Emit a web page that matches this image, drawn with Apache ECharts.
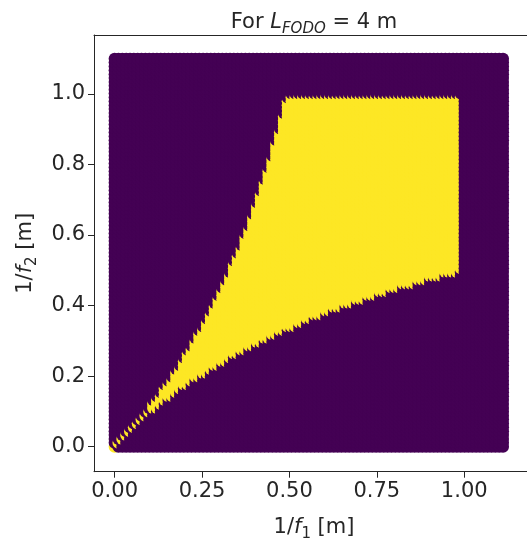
<!DOCTYPE html>
<html>
<head>
<meta charset="utf-8">
<script src="https://cdn.jsdelivr.net/npm/echarts@6/dist/echarts.min.js"></script>
<style>html,body{margin:0;padding:0;background:#fff}#c{width:527px;height:542px}</style>
</head>
<body>
<div id="c"></div>
<script>
// Grid of (1/f1, 1/f2) samples, spacing 0.011 m^-1
const gridStep = 0.011;
const gridCountX = 102;   // 1/f1 from 0 to ~1.11
const gridCountY = 101;   // 1/f2 from 0 to 1.1
// For each 1/f1 column index (0..90) the first and last 1/f2 row index that is stable (yellow)
const stableLowRow = [
  0,1,2,3,4,5,6,7,8,9,
  10,10,11,12,13,13,14,15,16,16,
  17,18,18,19,19,20,21,21,22,22,
  23,24,24,25,25,26,26,27,27,28,
  28,29,29,30,30,31,31,31,32,32,
  33,33,34,34,34,35,35,36,36,36,
  37,37,37,38,38,38,39,39,39,40,
  40,40,41,41,41,42,42,42,42,43,
  43,43,44,44,44,44,45,45,45,45,
  46];
const stableHighRow = [
  0,1,2,3,4,5,6,7,8,9,
  11,12,13,15,16,17,19,20,22,24,
  25,27,29,30,32,34,36,38,40,42,
  44,47,49,51,54,56,59,62,65,68,
  71,74,78,81,85,89,90,90,90,90,
  90,90,90,90,90,90,90,90,90,90,
  90,90,90,90,90,90,90,90,90,90,
  90,90,90,90,90,90,90,90,90,90,
  90,90,90,90,90,90,90,90,90,90,
  90];
const xTicks = [0, 0.25, 0.5, 0.75, 1.0];
const yTicks = [0, 0.2, 0.4, 0.6, 0.8, 1.0];
const colorUnstable = '#440154';
const colorStable = '#fde725';

const points = [];
for (let i = 0; i < gridCountX; i++) {
  for (let j = 0; j < gridCountY; j++) {
    const stable = i < stableLowRow.length && j >= stableLowRow[i] && j <= stableHighRow[i] ? 1 : 0;
    points.push([+(i * gridStep).toFixed(4), +(j * gridStep).toFixed(4), stable]);
  }
}

const FONT = 'DejaVu Sans';
const TXT = '#262626';
const SPINE = '#262626';
function richSet(base, sub) {
  return {
    a: {fontFamily: FONT, fontSize: base, fontWeight: 'normal', color: TXT, lineHeight: 26, verticalAlign: 'bottom'},
    i: {fontFamily: FONT, fontSize: base, fontWeight: 'normal', fontStyle: 'italic', color: TXT, lineHeight: 26, verticalAlign: 'bottom'},
    s: {fontFamily: FONT, fontSize: sub, fontWeight: 'normal', fontStyle: 'italic', color: TXT, lineHeight: 15, verticalAlign: 'bottom', padding: [0,0,-4,0]},
    n: {fontFamily: FONT, fontSize: sub, fontWeight: 'normal', color: TXT, lineHeight: 15, verticalAlign: 'bottom', padding: [0,0,-4,0]}
  };
}
const X_MIN = -0.059, X_MAX = 1.1996;
const chart = echarts.init(document.getElementById('c'), null, {renderer: 'canvas'});
chart.setOption({
  animation: false,
  backgroundColor: '#fff',
  textStyle: {fontFamily: FONT},
  title: {
    text: '{a|For }{i|L}{s|FODO}{a| = 4 m}',
    left: 309, top: 2, textAlign: 'center',
    textStyle: {fontWeight: 'normal', rich: richSet(21, 15)}
  },
  grid: {left: 94, top: 35, width: 440, height: 436.7, outerBoundsMode: 'none', containLabel: false, show: false},
  xAxis: [{
    type: 'value', min: X_MIN, max: X_MAX, position: 'bottom',
    splitLine: {show: false},
    axisLine: {show: true, onZero: false, lineStyle: {color: SPINE, width: 1}},
    axisTick: {show: true, length: 6, customValues: xTicks, lineStyle: {color: SPINE}},
    axisLabel: {customValues: xTicks, formatter: v => v.toFixed(2), fontFamily: FONT, fontSize: 21, color: TXT, margin: 9},
    name: '{a|1/}{i|f}{n|1}{a| [m]}', nameLocation: 'middle', nameGap: 40,
    nameTextStyle: {rich: richSet(21, 15)}
  }, {
    type: 'value', min: X_MIN, max: X_MAX, position: 'top',
    splitLine: {show: false},
    axisLine: {show: true, onZero: false, lineStyle: {color: SPINE, width: 1}},
    axisTick: {show: false}, axisLabel: {show: false}
  }],
  yAxis: {
    type: 'value', min: -0.0709, max: 1.167,
    splitLine: {show: false},
    axisLine: {show: true, onZero: false, lineStyle: {color: SPINE, width: 1}},
    axisTick: {show: true, length: 6, customValues: yTicks, lineStyle: {color: SPINE}},
    axisLabel: {customValues: yTicks, formatter: v => v.toFixed(1), fontFamily: FONT, fontSize: 21, color: TXT, margin: 9},
    name: '{a|1/}{i|f}{n|2}{a| [m]}', nameLocation: 'middle', nameRotate: 90, nameGap: 58,
    nameTextStyle: {rich: richSet(21, 15)}
  },
  series: [{
    type: 'scatter',
    xAxisIndex: 0,
    data: points,
    symbol: 'circle',
    symbolSize: 12,
    large: false,
    progressive: 0,
    silent: true,
    clip: false,
    itemStyle: {opacity: 1, color: p => p.data[2] ? colorStable : colorUnstable}
  }]
});
</script>
</body>
</html>
